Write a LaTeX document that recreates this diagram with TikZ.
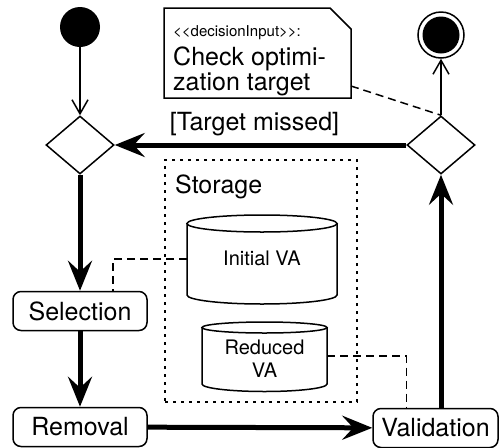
\documentclass[tikz,border=0pt]{standalone}
\usepackage{fontspec}
\setmainfont{TeX Gyre Heros}
\usetikzlibrary{arrows.meta,shapes.geometric}
\begin{document}
\begin{tikzpicture}[x=1pt,y=-1pt,
 act/.style={draw,rounded corners=8pt,line width=1.5pt,minimum width=134pt,minimum height=39pt,inner sep=0pt,font=\fontsize{25}{28}\selectfont},
 dec/.style={draw,diamond,line width=1.5pt,minimum width=68pt,minimum height=58pt,inner sep=0pt},
 flow/.style={line width=5pt,-{Stealth[length=30pt,width=24pt,inset=11pt]}},
 ctrl/.style={line width=1.5pt,-{Straight Barb[length=14pt,width=16pt]}},
 assoc/.style={line width=1.5pt,dash pattern=on 8pt off 5pt},
 big/.style={font=\fontsize{25}{28}\selectfont},
 mid/.style={font=\fontsize{20}{23}\selectfont},
 small/.style={font=\fontsize{15}{17}\selectfont},
 shape line/.style={line width=1.5pt},
 storagebox/.style={draw,line width=1.5pt,dash pattern=on 3pt off 5pt,minimum width=192pt,minimum height=242pt,inner sep=0pt}]
\useasboundingbox (0,0) rectangle (499,448);
% storage
\node[storagebox] (st) at (261,281) {};
\node[big,anchor=base west,inner sep=0pt] (stlabel) at (175,193) {Storage};
% initial/final
\node[circle,fill,minimum size=40pt,inner sep=0pt] (start) at (80,27) {};
\node[circle,draw,line width=1.5pt,minimum size=46pt,inner sep=0pt] (end) at (441,35) {};
\fill (end.center) circle (18.5pt);
% decisions
\node[dec] (m) at (80,145) {};
\node[dec] (d) at (441,145) {};
% activities
\node[act] (sel) at (80,311) {Selection};
\node[act] (rem) at (80,427) {Removal};
\node[act,minimum width=125pt] (val) at (435.5,428) {Validation};
% note
\draw[shape line,fill=white] (164,8) -- (330,8) -- (351,29) -- (351,98) -- (164,98) -- cycle;
\node[small,anchor=base west,inner sep=0pt] (n1) at (173,36) {{<}{<}decisionInput{>}{>}:};
\node[big,anchor=base west,inner sep=0pt] (n2) at (173,65) {Check optimi-};
\node[big,anchor=base west,inner sep=0pt] (n3) at (173,90) {zation target};
\coordinate (nc) at (351,86);
% cylinders
\draw[shape line] (187,223.5) -- (187,295) arc[start angle=180,end angle=360,x radius=75pt,y radius=9pt] -- (337,223.5);
\draw[shape line] (262,223.5) ellipse [x radius=75pt,y radius=8.5pt];
\node[mid,anchor=base,inner sep=0pt] (iva) at (262,265) {Initial VA};
\coordinate (ivaL) at (187,259);
\draw[shape line] (202,327.5) -- (202,384) arc[start angle=180,end angle=360,x radius=62.5pt,y radius=7.5pt] -- (327,327.5);
\draw[shape line] (264.5,327.5) ellipse [x radius=62.5pt,y radius=5.5pt];
\node[mid,anchor=base,inner sep=0pt] (rva1) at (264.5,354) {Reduced};
\node[mid,anchor=base,inner sep=0pt] (rva2) at (264.5,377) {VA};
\coordinate (rvaR) at (327,356);
% connectors
\draw[ctrl] (start) -- (m);
\draw[flow] (m) -- (sel);
\draw[flow] (sel) -- (rem);
\draw[flow] (rem) -- (val);
\draw[flow] (d.south |- val.north) -- (d.south);
\draw[flow] (d) -- (m) node[big,midway,anchor=base,yshift=15pt,xshift=-6pt,inner sep=0pt] (lbl) {[Target missed]};
\draw[ctrl] (d) -- (end);
\draw[assoc] (nc) -- (d.north);
\draw[assoc] (ivaL) -| ([xshift=33pt]sel.north);
\draw[assoc] (rvaR) -| ([xshift=-29pt]val.north);
\end{tikzpicture}
\end{document}
